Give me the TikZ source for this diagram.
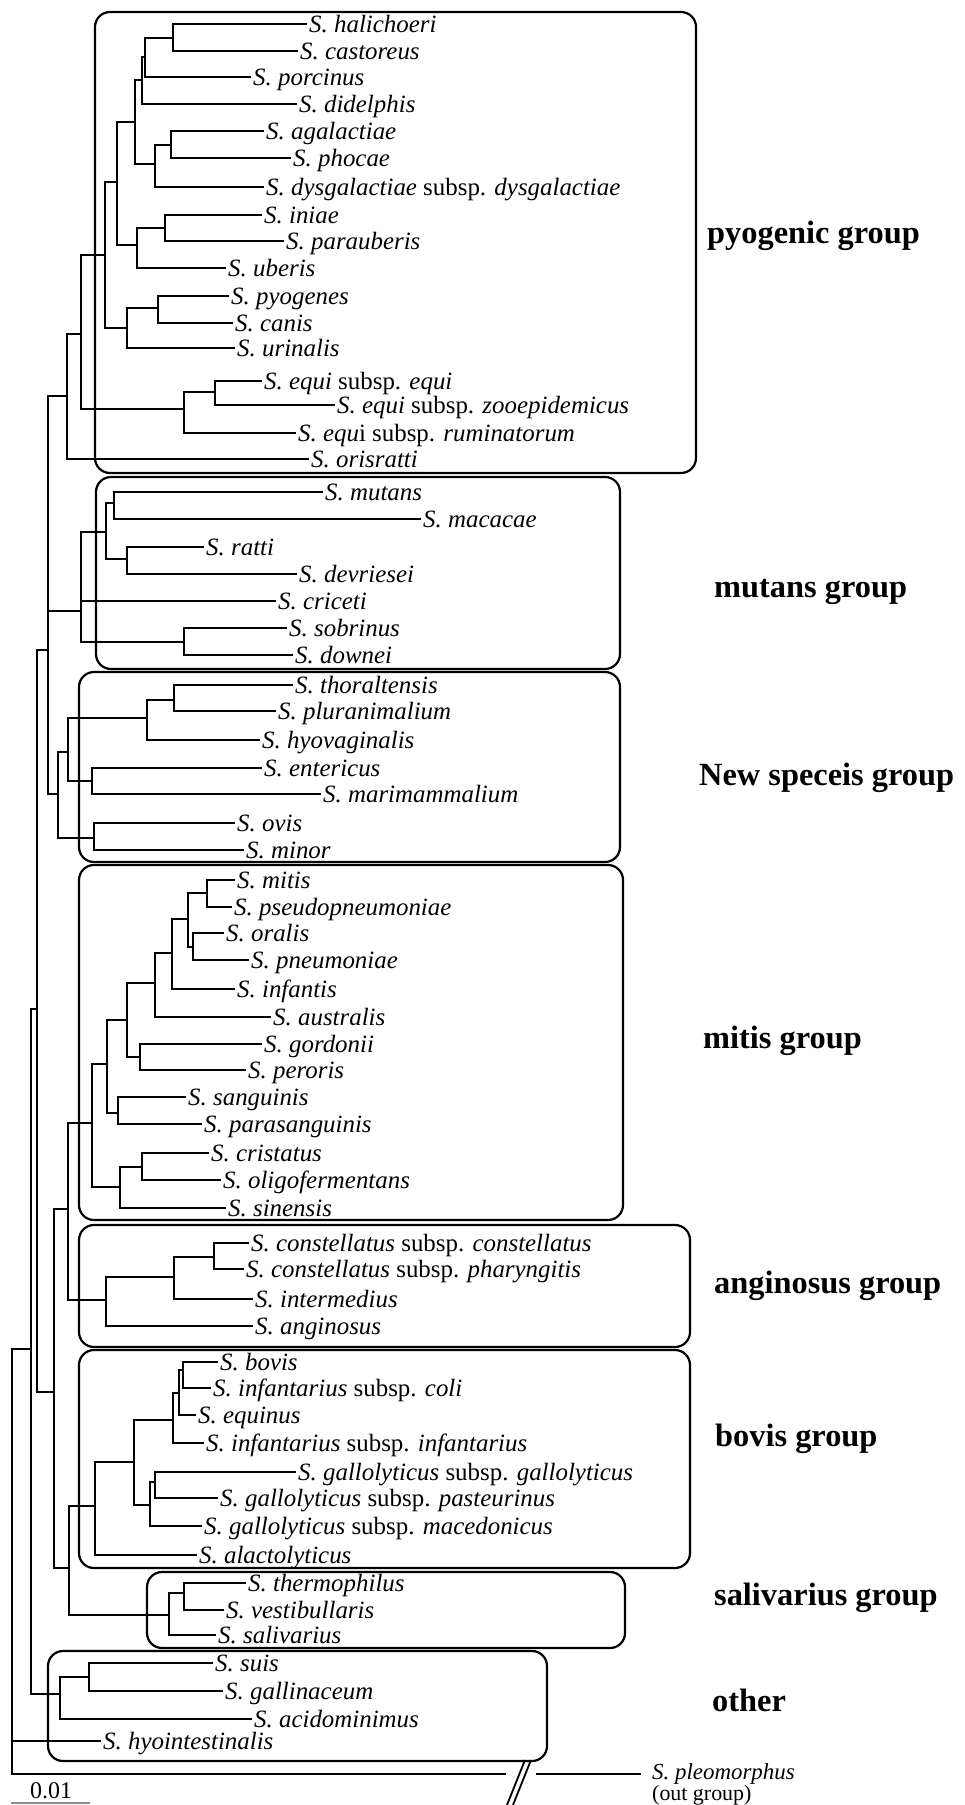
\documentclass[tikz,border=0pt]{standalone}
\usepackage{fontspec}
\setmainfont{Liberation Serif}
\newcommand\mkleaf[4]{\coordinate (#1) at (#2,#3); \node[leaf] (#1t) at (#1) {#4};}
\newcommand\mkedges[2]{\foreach \cc in {#2} {\draw[br] (#1) |- (\cc);}}
\begin{document}
\begin{tikzpicture}[x=1bp,y=-1bp,
  br/.style={line width=2.3bp, line cap=rect},
  grpbox/.style={line width=2.2bp, rounded corners=15bp},
  leaf/.style={anchor=base west, inner sep=0pt, xshift=3bp, yshift=-8bp, font=\fontsize{25}{25}\selectfont},
  grp/.style={anchor=base west, inner sep=0pt, font=\fontsize{32.5}{32.5}\selectfont\bfseries}]
\useasboundingbox (0,0) rectangle (964,1805);
% group boxes
\draw[grpbox] (95,12) rectangle (696,473);
\draw[grpbox] (96,477) rectangle (620,669);
\draw[grpbox] (79,672) rectangle (620,862);
\draw[grpbox] (79,865) rectangle (623,1220);
\draw[grpbox] (79,1225) rectangle (690,1347);
\draw[grpbox] (79,1350) rectangle (690,1568);
\draw[grpbox] (147,1572) rectangle (625,1648);
\draw[grpbox] (48,1651) rectangle (547,1761);
% group labels
\node[grp] (gpyo) at (707,243) {pyogenic group};
\node[grp] (gmut) at (714,597) {mutans group};
\node[grp] (gnew) at (699,785) {New speceis group};
\node[grp] (gmit) at (703,1048) {mitis group};
\node[grp] (gang) at (714,1293) {anginosus group};
\node[grp] (gbov) at (715,1446) {bovis group};
\node[grp] (gsal) at (714,1605) {salivarius group};
\node[grp] (goth) at (712,1711) {other};
% leaves
\mkleaf{lhal}{306}{24}{\textit{S. halichoeri}}
\mkleaf{lcas}{297}{51}{\textit{S. castoreus}}
\mkleaf{lpor}{250}{77}{\textit{S. porcinus}}
\mkleaf{ldid}{296}{104}{\textit{S. didelphis}}
\mkleaf{laga}{263}{131}{\textit{S. agalactiae}}
\mkleaf{lpho}{290}{158}{\textit{S. phocae}}
\mkleaf{ldys}{263}{187}{\textit{S. dysgalactiae} subsp. \textit{dysgalactiae}}
\mkleaf{lini}{261}{215}{\textit{S. iniae}}
\mkleaf{lpar}{283}{241}{\textit{S. parauberis}}
\mkleaf{lube}{225}{268}{\textit{S. uberis}}
\mkleaf{lpyo}{228}{296}{\textit{S. pyogenes}}
\mkleaf{lcan}{232}{323}{\textit{S. canis}}
\mkleaf{luri}{234}{348}{\textit{S. urinalis}}
\mkleaf{lequ}{261}{381}{\textit{S. equi} subsp. \textit{equi}}
\mkleaf{lzoo}{334}{405}{\textit{S. equi} subsp. \textit{zooepidemicus}}
\mkleaf{lrum}{295}{433}{\textit{S. equ}i subsp. \textit{ruminatorum}}
\mkleaf{lori}{308}{459}{\textit{S. orisratti}}
\mkleaf{lmut}{322}{492}{\textit{S. mutans}}
\mkleaf{lmac}{420}{519}{\textit{S. macacae}}
\mkleaf{lrat}{203}{547}{\textit{S. ratti}}
\mkleaf{ldev}{296}{574}{\textit{S. devriesei}}
\mkleaf{lcri}{275}{601}{\textit{S. criceti}}
\mkleaf{lsob}{286}{628}{\textit{S. sobrinus}}
\mkleaf{ldow}{292}{655}{\textit{S. downei}}
\mkleaf{ltho}{292}{685}{\textit{S. thoraltensis}}
\mkleaf{lplu}{275}{711}{\textit{S. pluranimalium}}
\mkleaf{lhyo}{259}{740}{\textit{S. hyovaginalis}}
\mkleaf{lent}{261}{768}{\textit{S. entericus}}
\mkleaf{lmar}{320}{794}{\textit{S. marimammalium}}
\mkleaf{lovi}{234}{823}{\textit{S. ovis}}
\mkleaf{lmin}{243}{850}{\textit{S. minor}}
\mkleaf{lmit}{234}{880}{\textit{S. mitis}}
\mkleaf{lpse}{231}{907}{\textit{S. pseudopneumoniae}}
\mkleaf{lora}{223}{933}{\textit{S. oralis}}
\mkleaf{lpne}{248}{960}{\textit{S. pneumoniae}}
\mkleaf{linf}{234}{989}{\textit{S. infantis}}
\mkleaf{laus}{270}{1017}{\textit{S. australis}}
\mkleaf{lgor}{261}{1044}{\textit{S. gordonii}}
\mkleaf{lper}{245}{1070}{\textit{S. peroris}}
\mkleaf{lsan}{185}{1097}{\textit{S. sanguinis}}
\mkleaf{lpsa}{201}{1124}{\textit{S. parasanguinis}}
\mkleaf{lcrs}{208}{1153}{\textit{S. cristatus}}
\mkleaf{loli}{220}{1180}{\textit{S. oligofermentans}}
\mkleaf{lsin}{225}{1208}{\textit{S. sinensis}}
\mkleaf{lcon}{248}{1243}{\textit{S. constellatus} subsp. \textit{constellatus}}
\mkleaf{lpha}{243}{1269}{\textit{S. constellatus} subsp. \textit{pharyngitis}}
\mkleaf{lint}{252}{1299}{\textit{S. intermedius}}
\mkleaf{lang}{252}{1326}{\textit{S. anginosus}}
\mkleaf{lbov}{217}{1362}{\textit{S. bovis}}
\mkleaf{lcol}{210}{1388}{\textit{S. infantarius} subsp. \textit{coli}}
\mkleaf{lein}{195}{1415}{\textit{S. equinus}}
\mkleaf{liin}{203}{1443}{\textit{S. infantarius} subsp. \textit{infantarius}}
\mkleaf{lgal}{295}{1472}{\textit{S. gallolyticus} subsp. \textit{gallolyticus}}
\mkleaf{lpas}{217}{1498}{\textit{S. gallolyticus} subsp. \textit{pasteurinus}}
\mkleaf{lmce}{201}{1526}{\textit{S. gallolyticus} subsp. \textit{macedonicus}}
\mkleaf{lala}{196}{1555}{\textit{S. alactolyticus}}
\mkleaf{lthe}{245}{1583}{\textit{S. thermophilus}}
\mkleaf{lves}{223}{1610}{\textit{S. vestibullaris}}
\mkleaf{lsal}{215}{1635}{\textit{S. salivarius}}
\mkleaf{lsui}{212}{1663}{\textit{S. suis}}
\mkleaf{lgli}{222}{1691}{\textit{S. gallinaceum}}
\mkleaf{laci}{251}{1719}{\textit{S. acidominimus}}
\mkleaf{lhyi}{100}{1741}{\textit{S. hyointestinalis}}
\coordinate (lple) at (640,1774);
\node[leaf, xshift=9bp, yshift=3bp, font=\fontsize{23}{23}\selectfont] (lplet) at (lple) {\textit{S. pleomorphus}};
\node[anchor=base west, inner sep=0pt, font=\fontsize{22}{22}\selectfont] (outg) at (652,1800) {(out group)};
% internal nodes
\coordinate (hc) at (173,38);
\coordinate (nA) at (145,57);
\coordinate (nB) at (142,80);
\coordinate (ap) at (171,145);
\coordinate (nC) at (155,164);
\coordinate (nD) at (135,122);
\coordinate (ip) at (165,228);
\coordinate (nE) at (137,245);
\coordinate (nD2) at (117,182);
\coordinate (pc) at (158,308);
\coordinate (nF) at (127,328);
\coordinate (nG) at (105,255);
\coordinate (ez) at (215,392);
\coordinate (nH) at (184,409);
\coordinate (nI) at (81,334);
\coordinate (nJ) at (67,396);
\coordinate (mm) at (114,503);
\coordinate (rd) at (127,559);
\coordinate (nK) at (106,532);
\coordinate (sd) at (184,642);
\coordinate (nL) at (81,611);
\coordinate (tp) at (174,700);
\coordinate (nM) at (147,718);
\coordinate (em) at (92,781);
\coordinate (nN) at (68,752);
\coordinate (om) at (94,838);
\coordinate (nO) at (58,794);
\coordinate (nP) at (48,650);
\coordinate (mp) at (207,893);
\coordinate (op) at (193,947);
\coordinate (m1) at (188,919);
\coordinate (m2) at (172,953);
\coordinate (m3) at (155,983);
\coordinate (gp) at (140,1057);
\coordinate (nQ) at (127,1020);
\coordinate (sp) at (118,1113);
\coordinate (nR) at (107,1064);
\coordinate (co) at (142,1167);
\coordinate (nS) at (120,1187);
\coordinate (nT) at (92,1123);
\coordinate (cc) at (214,1257);
\coordinate (nW) at (174,1277);
\coordinate (nX) at (106,1300);
\coordinate (nU) at (68,1209);
\coordinate (bc) at (183,1370);
\coordinate (nY) at (179,1393);
\coordinate (nZ) at (173,1420);
\coordinate (gg) at (155,1482);
\coordinate (nAA) at (150,1505);
\coordinate (nBB) at (134,1462);
\coordinate (nCC) at (95,1506);
\coordinate (tv) at (184,1593);
\coordinate (nDD) at (169,1615);
\coordinate (nEE) at (69,1568);
\coordinate (nV) at (54,1392);
\coordinate (nQ2) at (37,1009);
\coordinate (sg) at (89,1677);
\coordinate (nFF) at (60,1694);
\coordinate (n31) at (31,1349);
\coordinate (root) at (12,1349);
\coordinate (brkL) at (505,1774);
\coordinate (brkR) at (537,1774);
% edges
\mkedges{hc}{lhal,lcas}
\mkedges{nA}{hc,lpor}
\mkedges{nB}{nA,ldid}
\mkedges{ap}{laga,lpho}
\mkedges{nC}{ap,ldys}
\mkedges{nD}{nB,nC}
\mkedges{ip}{lini,lpar}
\mkedges{nE}{ip,lube}
\mkedges{nD2}{nD,nE}
\mkedges{pc}{lpyo,lcan}
\mkedges{nF}{pc,luri}
\mkedges{nG}{nD2,nF}
\mkedges{ez}{lequ,lzoo}
\mkedges{nH}{ez,lrum}
\mkedges{nI}{nG,nH}
\mkedges{nJ}{nI,lori}
\mkedges{mm}{lmut,lmac}
\mkedges{rd}{lrat,ldev}
\mkedges{nK}{mm,rd}
\mkedges{sd}{lsob,ldow}
\mkedges{nL}{nK,lcri,sd}
\mkedges{tp}{ltho,lplu}
\mkedges{nM}{tp,lhyo}
\mkedges{em}{lent,lmar}
\mkedges{nN}{nM,em}
\mkedges{om}{lovi,lmin}
\mkedges{nO}{nN,om}
\mkedges{nP}{nJ,nL,nO}
\mkedges{mp}{lmit,lpse}
\mkedges{op}{lora,lpne}
\mkedges{m1}{mp,op}
\mkedges{m2}{m1,linf}
\mkedges{m3}{m2,laus}
\mkedges{gp}{lgor,lper}
\mkedges{nQ}{m3,gp}
\mkedges{sp}{lsan,lpsa}
\mkedges{nR}{nQ,sp}
\mkedges{co}{lcrs,loli}
\mkedges{nS}{co,lsin}
\mkedges{nT}{nR,nS}
\mkedges{cc}{lcon,lpha}
\mkedges{nW}{cc,lint}
\mkedges{nX}{nW,lang}
\mkedges{nU}{nT,nX}
\mkedges{bc}{lbov,lcol}
\mkedges{nY}{bc,lein}
\mkedges{nZ}{nY,liin}
\mkedges{gg}{lgal,lpas}
\mkedges{nAA}{gg,lmce}
\mkedges{nBB}{nZ,nAA}
\mkedges{nCC}{nBB,lala}
\mkedges{tv}{lthe,lves}
\mkedges{nDD}{tv,lsal}
\mkedges{nEE}{nCC,nDD}
\mkedges{nV}{nU,nEE}
\mkedges{nQ2}{nP,nV}
\mkedges{sg}{lsui,lgli}
\mkedges{nFF}{sg,laci}
\mkedges{n31}{nQ2,nFF}
\mkedges{root}{n31,lhyi,brkL}
\draw[br] (brkR) -- (lple);
% break marks
\coordinate (s1a) at (507,1805); \coordinate (s1b) at (525,1760);
\coordinate (s2a) at (513,1805); \coordinate (s2b) at (531,1760);
\draw[line width=1.8bp] (s1a) -- (s1b);
\draw[line width=1.8bp] (s2a) -- (s2b);
% scale bar
\node[anchor=base west, inner sep=0pt, font=\fontsize{24}{24}\selectfont] (sclab) at (30,1798) {0.01};
\coordinate (sc1) at (11,1803); \coordinate (sc2) at (90,1803);
\draw[line width=2bp, black!45] (sc1) -- (sc2);
\end{tikzpicture}
\end{document}
